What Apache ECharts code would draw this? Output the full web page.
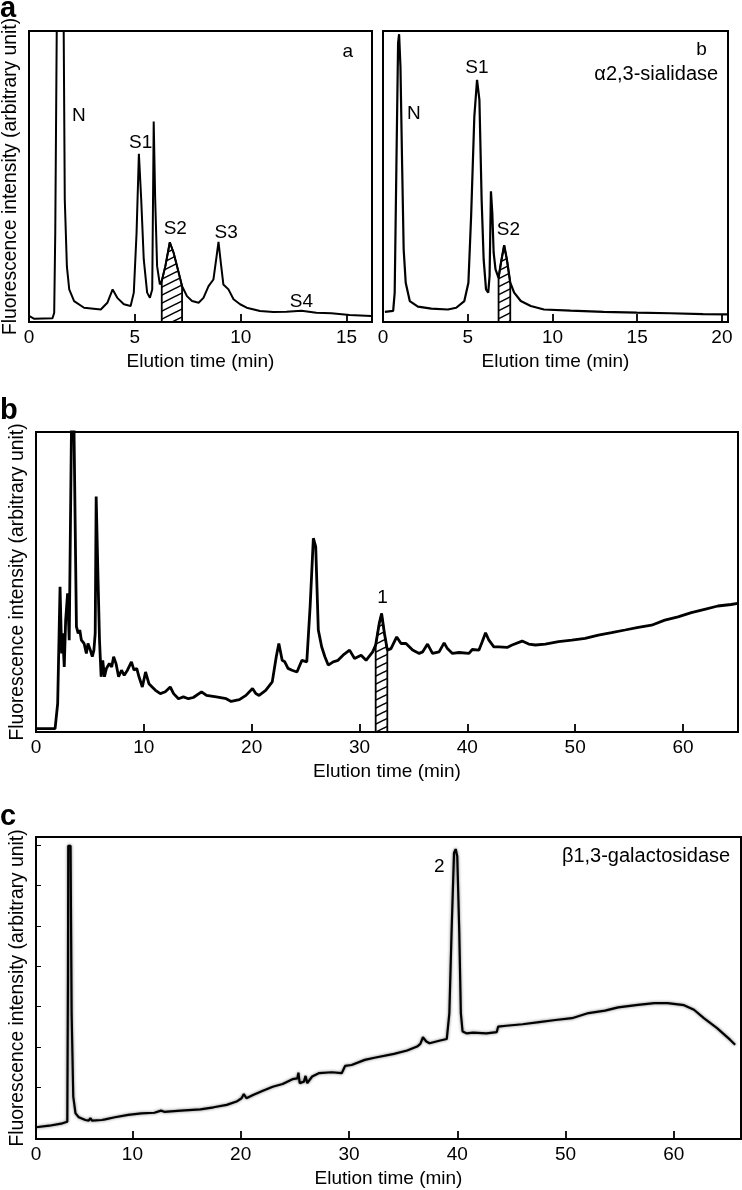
<!DOCTYPE html>
<html><head><meta charset="utf-8">
<script src="https://cdn.jsdelivr.net/npm/echarts@6/dist/echarts.min.js"></script>
<style>html,body{margin:0;padding:0;background:#fff}#chart{width:742px;height:1190px}</style>
</head><body><div id="chart"></div>
<script>
// ---------- Panel a (left): untreated ----------
const aLeftTime = [0,0.09,0.25,1.11,1.19,1.24,1.32,1.48,1.63,1.69,1.79,1.90,2.13,2.60,3.39,3.70,3.95,4.17,4.48,4.80,4.95,5.08,5.19,5.30,5.42,5.58,5.71,5.82,5.89,5.96,6.05,6.18,6.27,6.44,6.65,6.83,7.07,7.23,7.46,7.70,8.01,8.24,8.48,8.71,8.84,8.95,9.06,9.18,9.42,9.66,9.97,10.28,10.91,11.54,12.16,12.87,13.57,14.28,15.14,16.16];
const aLeftSignal = [2.1,2.6,1.1,1.3,3.2,30.6,110,220,110,42,19,11.2,7.2,4.9,4.3,6.6,11.2,8.3,6.1,5.5,10.1,30.6,57.8,42.1,21.5,10.1,8.3,11.2,68.9,42.1,19.2,12.9,14.1,19.2,27.4,23.8,16.9,12.3,8.9,7.2,6.6,8.3,12.3,14.6,21.5,27.5,20.3,12.9,11.2,7.8,6.1,4.9,3.8,3.4,3.5,3.9,3.2,3.0,2.4,2.1];
const aLeftHatch = [6.27, 7.23];
const aLeftTicks = [0, 5, 10, 15];
const aLeftLabels = [[2.35,71,'N'],[5.27,61.6,'S1'],[6.91,32.2,'S2'],[9.31,30.5,'S3'],[12.87,7,'S4'],[15.06,92.9,'a']];

// ---------- Panel a (right): alpha2,3-sialidase ----------
const aRightTime = [0.11,0.60,0.69,0.79,0.89,0.95,1.03,1.13,1.22,1.34,1.58,2.06,2.85,3.83,4.32,4.80,5.04,5.20,5.39,5.55,5.69,5.82,5.94,6.08,6.21,6.29,6.37,6.45,6.53,6.64,6.82,6.96,7.15,7.31,7.51,7.74,8.13,8.72,9.50,11.07,13.02,14.98,16.94,18.89,20.36];
const aRightSignal = [3.5,3.8,10.1,53.5,95.8,98.9,87.8,53.5,24.9,13.5,7.2,5.3,4.6,4.3,4.9,7.2,13.5,36.3,70.6,83.2,76.3,42.1,21.5,11.2,10.1,15.8,44.9,37.5,23.8,18.1,15.2,20.3,26.4,21.5,13.5,10.1,7.2,5.5,4.3,3.9,3.5,3.2,3.0,2.7,2.6];
const aRightHatch = [6.82, 7.51];
const aRightTicks = [0, 5, 10, 15, 20];
const aRightLabels = [[1.82,71.7,'N'],[5.54,87.2,'S1'],[7.4,31.6,'S2'],[18.8,93.5,'b']];
const aRightNote = [[19.78,84.9,'α2,3-sialidase']];

// ---------- Panel b ----------
const bTime = [0,1.77,2.01,2.23,2.38,2.47,2.62,2.75,2.93,3.08,3.30,3.42,3.51,3.75,3.91,4.06,4.21,4.46,4.67,4.82,5.04,5.22,5.37,5.49,5.58,5.74,5.89,6.04,6.19,6.35,6.53,6.80,7.02,7.20,7.42,7.66,7.93,8.18,8.48,8.85,9.09,9.34,9.55,9.86,10.16,10.47,10.77,11.08,11.53,11.99,12.45,12.76,13.21,13.67,14.13,14.59,15.35,15.81,16.72,17.64,18.10,18.86,19.47,20.08,20.38,20.69,21.30,21.91,22.28,22.52,22.83,23.07,23.37,23.74,24.20,24.66,25.11,25.42,25.72,25.94,26.18,26.49,26.79,27.10,27.56,28.01,28.47,29.08,29.54,30.15,30.61,31.22,31.50,31.83,32.05,32.31,32.58,32.92,33.45,33.85,34.31,34.92,35.54,35.85,36.31,36.77,37.38,37.85,38.15,38.62,39.23,40.15,40.46,41.08,41.38,41.69,42.00,42.46,42.92,43.69,44.15,45.08,45.69,46.31,47.23,48.46,49.69,50.92,52.15,53.38,54.62,55.85,57.08,58.31,59.54,60.77,62.00,63.23,64.46,65.08];
const bSignal = [1.1,1.1,9.5,48.4,26.2,32.9,21.7,37.3,46.2,30.6,105,135,105,35.1,32.9,34.0,30.6,29.5,26.2,29.5,27.3,25.1,27.3,32.9,78.5,52.9,30.6,18.4,23.9,18.4,21.2,22.8,21.7,25.1,22.8,18.4,20.6,18.9,20.6,23.4,20.6,21.2,18.4,15.0,20.0,16.1,15.0,13.9,12.8,13.4,15.0,12.8,11.1,11.7,11.1,11.5,13.4,12.2,11.7,11.1,10.2,10.8,12.2,14.5,12.8,12.2,13.9,16.7,25.1,29.5,23.9,23.4,21.2,20.6,20.0,23.9,23.4,41.8,64.6,61.8,34.0,28.4,25.1,22.3,23.4,23.9,25.6,27.3,24.5,25.6,23.9,26.7,29.0,36.2,39.5,32.9,27.3,27.8,31.7,29.5,29.5,27.3,26.2,26.7,29.3,26.2,26.7,29.7,27.8,26.2,26.5,26.2,27.5,27.3,30.1,33.1,30.6,28.4,28.4,28.2,29.0,30.3,29.3,29.0,29.3,30.1,30.6,31.2,32.3,33.1,34.0,34.9,35.6,37.3,38.4,39.8,40.9,42.0,42.5,42.9];
const bHatch = [31.50, 32.58];
const bTicks = [0, 10, 20, 30, 40, 50, 60];
const bLabels = [[32.14,44.6,'1']];

// ---------- Panel c: beta1,3-galactosidase ----------
const cTime = [1.11,2.32,3.54,3.99,4.05,4.08,4.29,4.39,4.54,4.75,5.05,5.66,5.96,6.12,6.27,7.18,7.33,7.48,8.39,9.61,10.82,12.03,12.64,12.94,14.46,16.28,17.50,18.71,19.62,20.08,20.29,20.53,21.14,22.05,22.96,23.87,24.78,25.24,25.33,25.45,25.84,25.99,26.15,26.60,27.21,28.42,29.33,29.64,30.24,31.46,32.35,34.16,35.37,36.29,36.59,36.83,37.14,37.44,38.42,39.03,39.27,39.48,39.70,39.85,40.00,40.18,40.33,40.49,40.85,41.46,42.68,43.65,43.77,44.51,46.03,47.55,49.07,50.59,52.12,53.64,54.86,56.68,58.20,59.42,60.94,61.86,62.77,63.99,65.21,65.66];
const cSignal = [3.9,4.4,5.2,5.7,52.7,97.1,97.1,41.7,14.0,8.5,7.2,6.3,6.1,6.9,6.1,6.3,6.9,6.5,7.2,8.0,8.5,8.7,9.4,9.0,9.4,9.8,10.5,11.3,12.4,13.5,14.9,13.5,14.6,16.0,17.3,18.2,19.8,20.1,22.0,18.5,19.0,20.9,18.5,20.7,21.8,22.1,21.8,24.2,24.5,26.2,26.9,28.2,29.3,30.6,31.5,33.7,32.3,31.7,32.6,33.1,41.7,69.3,94.7,96.0,93.6,69.3,41.7,35.6,35.0,35.2,35.0,35.4,37.2,37.5,38.0,38.7,39.4,40.0,41.7,42.5,43.6,44.4,45.0,45.0,44.3,42.8,40.0,36.7,32.8,31.2];
const cXLabelAt = [1.1, 10, 20, 30, 40, 50, 60];
const cXLabelText = ['0', '10', '20', '30', '40', '50', '60'];
const cXTicks = [10, 20, 30, 40, 50, 60];
const cYTicks = [17.2, 30.5, 43.8, 57.1, 70.6, 84, 97.2];
const cLabels = [[38.33,90.3,'2']];
const cNote = [[65.2,93.6,'β1,3-galactosidase']];

// ---------- helpers ----------
const FONT = '"Liberation Sans", Arial, Helvetica, sans-serif';
function zip(t, v) { return t.map((x, i) => [x, v[i]]); }
function hatchData(t, v, range) {
  const pts = zip(t, v).filter(p => p[0] >= range[0] - 1e-9 && p[0] <= range[1] + 1e-9);
  return [[range[0], 0]].concat(pts, [[range[1], 0]]);
}
const pc = document.createElement('canvas');
pc.width = 16; pc.height = 8;
const g = pc.getContext('2d');
g.strokeStyle = '#000'; g.lineWidth = 1.5;
[[0,0],[16,0],[-16,0],[0,8],[0,-8]].forEach(([dx, dy]) => {
  g.beginPath(); g.moveTo(dx, dy + 8); g.lineTo(dx + 16, dy); g.stroke();
});
const hatchFill = { image: pc, repeat: 'repeat' };

function xAxisCfg(gi, min, max, ticks, labelAt, fmt) {
  return {
    gridIndex: gi, type: 'value', min: min, max: max,
    axisLine: { show: false }, splitLine: { show: false },
    axisTick: { show: true, inside: true, length: 8, customValues: ticks, lineStyle: { color: '#000', width: 1.8 } },
    axisLabel: { customValues: labelAt, color: '#000', fontSize: 19, fontFamily: FONT, margin: 6, formatter: fmt },
    name: 'Elution time (min)', nameLocation: 'middle', nameGap: 30,
    nameTextStyle: { color: '#000', fontSize: 19, fontFamily: FONT }
  };
}
function yAxisCfg(gi, withName, ticks) {
  return {
    gridIndex: gi, type: 'value', min: 0, max: 100,
    axisLine: { show: false }, splitLine: { show: false },
    axisTick: ticks ? { show: true, inside: true, length: 5, customValues: ticks, lineStyle: { color: '#000', width: 1 } } : { show: false },
    axisLabel: { show: false },
    name: withName ? 'Fluorescence intensity (arbitrary unit)' : '',
    nameLocation: 'middle', nameGap: 9,
    nameTextStyle: { color: '#000', fontSize: 19.3, fontFamily: FONT }
  };
}
function lineSeries(i, data, width, extra) {
  return Object.assign({
    type: 'line', xAxisIndex: i, yAxisIndex: i, data: data, showSymbol: false, symbol: 'none',
    lineStyle: { color: '#000', width: width }, z: 3, silent: true
  }, extra || {});
}
function hatchSeries(i, data) {
  return {
    type: 'line', xAxisIndex: i, yAxisIndex: i, data: data, showSymbol: false, symbol: 'none',
    lineStyle: { color: '#000', width: 1.8 }, areaStyle: { color: hatchFill, opacity: 1, origin: 'start' }, z: 2, silent: true
  };
}
function textSeries(i, data, align, size) {
  return {
    type: 'scatter', xAxisIndex: i, yAxisIndex: i, data: data, symbolSize: 0, silent: true, z: 5,
    itemStyle: { color: '#000', opacity: 1 },
    label: { show: true, position: 'inside', align: align, verticalAlign: 'middle', opacity: 1,
      textBorderWidth: 0, textBorderColor: 'transparent', textShadowBlur: 0,
      formatter: p => p.data[2], color: '#000', fontSize: size, fontFamily: FONT }
  };
}

const chart = echarts.init(document.getElementById('chart'), null, { renderer: 'canvas' });
const gridBase = { show: true, borderColor: '#000', borderWidth: 2, backgroundColor: 'transparent', containLabel: false };
chart.setOption({
  animation: false,
  backgroundColor: '#fff',
  grid: [
    Object.assign({ left: 28, top: 31, width: 344, height: 291 }, gridBase),
    Object.assign({ left: 383, top: 31, width: 345, height: 291 }, gridBase),
    Object.assign({ left: 27, top: 432, width: 711, height: 300 }, gridBase),
    Object.assign({ left: 27, top: 837, width: 714, height: 302 }, gridBase)
  ],
  xAxis: [
    xAxisCfg(0, 0, 16.2, aLeftTicks, aLeftTicks),
    xAxisCfg(1, 0, 20.36, aRightTicks, aRightTicks),
    xAxisCfg(2, 0, 65.1, bTicks, bTicks),
    xAxisCfg(3, 1.1, 66.2, cXTicks, cXLabelAt, (v) => { const k = cXLabelAt.indexOf(v); return k >= 0 ? cXLabelText[k] : String(v); })
  ],
  yAxis: [
    yAxisCfg(0, true),
    yAxisCfg(1, false),
    yAxisCfg(2, true),
    yAxisCfg(3, true, cYTicks)
  ],
  graphic: [
    { type: 'text', left: 0, top: -6, z: 10, style: { text: 'a', font: 'bold 29px ' + FONT, fill: '#000' } },
    { type: 'text', left: 0, top: 396, z: 10, style: { text: 'b', font: 'bold 29px ' + FONT, fill: '#000' } },
    { type: 'text', left: 0, top: 802, z: 10, style: { text: 'c', font: 'bold 29px ' + FONT, fill: '#000' } }
  ],
  series: [
    hatchSeries(0, hatchData(aLeftTime, aLeftSignal, aLeftHatch)),
    lineSeries(0, zip(aLeftTime, aLeftSignal), 2),
    textSeries(0, aLeftLabels, 'center', 19),
    hatchSeries(1, hatchData(aRightTime, aRightSignal, aRightHatch)),
    lineSeries(1, zip(aRightTime, aRightSignal), 2.2),
    textSeries(1, aRightLabels, 'center', 19),
    textSeries(1, aRightNote, 'right', 20),
    hatchSeries(2, hatchData(bTime, bSignal, bHatch)),
    lineSeries(2, zip(bTime, bSignal), 2.8),
    textSeries(2, bLabels, 'center', 19),
    lineSeries(3, zip(cTime, cSignal), 2.2, { lineStyle: { color: '#000', width: 2.2, shadowColor: 'rgba(0,0,0,0.55)', shadowBlur: 3 } }),
    textSeries(3, cLabels, 'center', 19),
    textSeries(3, cNote, 'right', 20)
  ]
});
</script>
</body></html>
